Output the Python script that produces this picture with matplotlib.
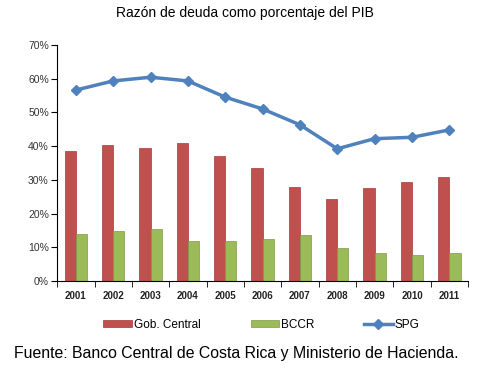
import numpy as np
import matplotlib.pyplot as plt
from matplotlib.lines import Line2D
from matplotlib.patches import Patch

# Data (percent of GDP)
years = ['2001', '2002', '2003', '2004', '2005', '2006',
         '2007', '2008', '2009', '2010', '2011']
gob_central = [38.5, 40.3, 39.4, 40.9, 37.2, 33.4, 28.0, 24.2, 27.7, 29.4, 30.8]
bccr = [13.9, 14.7, 15.3, 12.0, 12.0, 12.4, 13.7, 9.7, 8.4, 7.6, 8.2]
spg = [56.6, 59.3, 60.4, 59.3, 54.5, 51.0, 46.3, 39.2, 42.2, 42.6, 44.8]

red = '#C0504D'
green = '#9BBB59'
blue = '#4F81BD'

plt.rcParams['font.family'] = ['Liberation Sans', 'DejaVu Sans']

fig = plt.figure(figsize=(4.89, 3.83), dpi=100)
ax = fig.add_axes([0.117, 0.266, 0.840, 0.617])

x = np.arange(len(years))
w = 0.30

ax.bar(x - w / 2, gob_central, width=w, color=red, edgecolor='#A23C39', linewidth=0.5)
ax.bar(x + w / 2, bccr, width=w, color=green, edgecolor='#7E9A45', linewidth=0.5)
ax.plot(x, spg, color=blue, lw=2.5, marker='D', markersize=5.5, zorder=3)

ax.set_xlim(-0.5, len(years) - 0.5)
ax.set_ylim(0, 70)
ax.set_yticks(np.arange(0, 71, 10))
ax.set_yticklabels(['%d%%' % v for v in range(0, 71, 10)], fontsize=7.5, color='#333333')

# category labels centred, ticks on the boundaries
ax.set_xticks(x)
ax.set_xticklabels(years, fontsize=7, fontweight='bold', color='#222222')
ax.tick_params(axis='x', length=0, pad=7)
ax.set_xticks(np.arange(-0.5, len(years)), minor=True)
ax.tick_params(axis='x', which='minor', length=4, direction='out')
ax.tick_params(axis='y', length=4, direction='out', pad=2)

ax.spines['top'].set_visible(False)
ax.spines['right'].set_visible(False)

fig.text(0.5, 0.965, 'Razón de deuda como porcentaje del PIB',
         ha='center', va='center', fontsize=10)

handles = [Patch(facecolor=red, edgecolor='#A23C39', linewidth=0.5),
           Patch(facecolor=green, edgecolor='#7E9A45', linewidth=0.5),
           Line2D([0], [0], color=blue, lw=2.5, marker='D', markersize=5)]
fig.legend(handles, ['Gob. Central', 'BCCR', 'SPG'], loc='center',
           bbox_to_anchor=(0.535, 0.152), ncol=3, frameon=False, fontsize=8.5,
           handlelength=2.4, handleheight=0.6, handletextpad=0.2, columnspacing=4.2)

fig.text(0.028, 0.078, 'Fuente: Banco Central de Costa Rica y Ministerio de Hacienda.',
         ha='left', va='center', fontsize=11.4)

fig.savefig('out.png', dpi=100)
